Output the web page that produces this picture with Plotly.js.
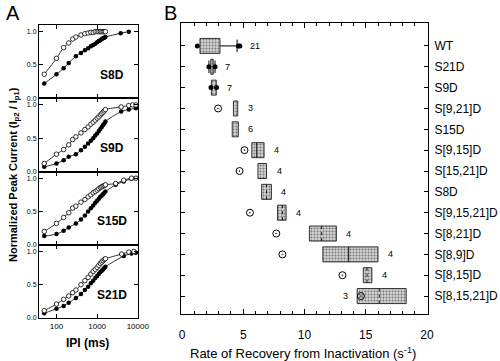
<!DOCTYPE html>
<html>
<head>
<meta charset="utf-8">
<script src="https://cdn.plot.ly/plotly-3.0.1.min.js"></script>
<style>html,body{margin:0;padding:0;background:#fff}#chart{width:500px;height:361px}</style>
</head>
<body>
<div id="chart"></div>
<script>
// ---------- Panel A data: normalized peak current vs IPI (ms) ----------
const panelNames = ['S8D', 'S9D', 'S15D', 'S21D'];

const s8dOpenIpi = [50,100,150,200,250,300,400,500,600,700,800,900,1000,1100,1200,1300,1400,1500,1600];
const s8dOpenVal = [0.36,0.60,0.76,0.83,0.89,0.92,0.95,0.97,0.98,0.99,0.99,1.0,1.0,1.0,1.0,1.0,1.0,1.0,1.0];
const s8dFillIpi = [50,100,150,200,300,400,500,600,700,800,900,1000,1100,1200,1300,1400,1500,1600,3800,6000];
const s8dFillVal = [0.22,0.36,0.45,0.53,0.63,0.68,0.72,0.75,0.78,0.80,0.82,0.84,0.86,0.87,0.89,0.90,0.91,0.92,0.975,1.0];

const s9dOpenIpi = [50,100,150,200,250,300,400,500,600,700,800,900,1000,1100,1200,1300,1400,1500,1600,3900,6000,7500,9000];
const s9dOpenVal = [0.12,0.26,0.33,0.40,0.48,0.52,0.58,0.63,0.67,0.71,0.74,0.77,0.80,0.82,0.85,0.87,0.89,0.91,0.93,0.97,0.99,1.0,1.0];
const s9dFillIpi = [50,100,150,200,300,400,500,600,700,800,900,1000,1100,1200,1300,1400,1500,1600,3900,6000,9000];
const s9dFillVal = [0.07,0.12,0.17,0.22,0.26,0.32,0.37,0.42,0.46,0.50,0.54,0.57,0.61,0.64,0.67,0.70,0.72,0.75,0.90,0.93,0.95];

const s15dOpenIpi = [50,100,150,200,250,300,400,500,600,700,800,900,1000,1100,1200,1300,1400,1500,1600,2850,4500,7000,9000];
const s15dOpenVal = [0.20,0.32,0.41,0.48,0.55,0.58,0.64,0.68,0.72,0.75,0.78,0.80,0.82,0.84,0.86,0.87,0.88,0.89,0.90,0.92,0.97,1.0,1.0];
const s15dFillIpi = [50,100,150,200,300,400,500,600,700,800,900,1000,1100,1200,1300,1400,1500,1600,2850,4500,7000,9000];
const s15dFillVal = [0.13,0.16,0.21,0.26,0.32,0.38,0.44,0.50,0.55,0.59,0.63,0.66,0.69,0.72,0.74,0.76,0.78,0.80,0.90,0.95,0.99,1.0];

const s21dOpenIpi = [50,100,150,200,250,300,400,500,600,700,800,900,1000,1100,1200,1300,1400,1500,1600,4000,6000,8000];
const s21dOpenVal = [0.11,0.21,0.28,0.33,0.38,0.42,0.50,0.56,0.61,0.66,0.70,0.73,0.76,0.79,0.82,0.84,0.86,0.88,0.89,0.96,0.99,1.0];
const s21dFillIpi = [50,100,150,200,300,400,500,600,700,800,900,1000,1100,1200,1300,1400,1500,1600,4500,7000,9000];
const s21dFillVal = [0.07,0.14,0.18,0.23,0.30,0.36,0.42,0.47,0.52,0.56,0.60,0.63,0.66,0.69,0.71,0.73,0.75,0.77,0.93,0.97,0.98];

const ipiTicks = [100, 1000, 10000];
const ipiTickText = ['100', '1000', '10000'];
const ratioTicks = [0, 0.5, 1];
const ratioTickText = ['0.0', '0.5', '1.0'];

// ---------- Panel B data: rate of recovery from inactivation (1/s) ----------
const groups = ['WT','S21D','S9D','S[9,21]D','S15D','S[9,15]D','S[15,21]D','S8D','S[9,15,21]D','S[8,21]D','S[8,9]D','S[8,15]D','S[8,15,21]D'];
const q1Rate     = [1.47, 2.35, 2.40, 4.20, 4.10, 5.70, 6.20, 6.50, 7.80, 10.40, 11.50, 14.80, 14.30];
const q3Rate     = [3.10, 2.55, 2.80, 4.55, 4.60, 6.70, 6.90, 7.30, 8.50, 12.60, 16.00, 15.50, 18.30];
const medianRate = [null, null, null, null, null, 6.10, null, 6.90, 8.20, 11.40, 13.60, 15.10, 16.10];
const whiskerLo  = [null, 2.20, null, null, null, null, null, null, null, null, null, null, null];
const whiskerHi  = [4.50, 2.70, null, null, null, null, null, null, null, null, null, null, null];
const outlierRate  = [1.25, 4.60, 4.72, 2.20, 2.70, 2.37, 2.82];
const outlierGroup = ['WT', 'WT', 'WT', 'S21D', 'S21D', 'S9D', 'S9D'];
const refRate    = [null, null, null, 2.95, null, 5.10, 4.70, null, 5.55, 7.70, 8.20, 13.10, 14.60];
const nCells     = [21, 7, 7, 3, 6, 4, 4, 4, 4, 4, 4, 4, 3];

// style-only settings
const solidMedianGroups = ['S[9,15]D', 'S[8,9]D'];
const leftCountGroups = ['S[8,15,21]D'];

const FONT = 'Liberation Sans, Arial, Helvetica, sans-serif';
const traces = [];
const series = [
  [s8dOpenIpi, s8dOpenVal, s8dFillIpi, s8dFillVal],
  [s9dOpenIpi, s9dOpenVal, s9dFillIpi, s9dFillVal],
  [s15dOpenIpi, s15dOpenVal, s15dFillIpi, s15dFillVal],
  [s21dOpenIpi, s21dOpenVal, s21dFillIpi, s21dFillVal]
];
series.forEach((s, k) => {
  const xa = k === 0 ? 'x' : 'x' + (k + 1);
  const ya = k === 0 ? 'y' : 'y' + (k + 1);
  traces.push({
    type: 'scatter', mode: 'lines+markers', x: s[2], y: s[3], xaxis: xa, yaxis: ya,
    line: {color: '#000', width: 0.8, shape: 'spline', smoothing: 0.8},
    marker: {symbol: 'circle', size: 4.5, color: '#000'}, hoverinfo: 'skip'
  });
  traces.push({
    type: 'scatter', mode: 'lines+markers', x: s[0], y: s[1], xaxis: xa, yaxis: ya,
    line: {color: '#000', width: 0.8, shape: 'spline', smoothing: 0.8},
    marker: {symbol: 'circle', size: 4.5, color: '#fff', line: {color: '#000', width: 0.8}}, hoverinfo: 'skip'
  });
});

const idx = groups.map((g, i) => i);
// boxes
traces.push({
  type: 'bar', orientation: 'h', xaxis: 'x5', yaxis: 'y5',
  y: idx, base: q1Rate, x: q1Rate.map((v, i) => q3Rate[i] - v), width: 0.72,
  marker: {color: '#cfcfcf', line: {color: '#333', width: 1},
    pattern: {shape: '.', fgcolor: '#777', bgcolor: '#d4d4d4', size: 3, solidity: 0.35}},
  hoverinfo: 'skip'
});
// whiskers + caps
const wx = [], wy = [];
idx.forEach(i => {
  if (whiskerHi[i] != null) {
    wx.push(q3Rate[i], whiskerHi[i], null, whiskerHi[i], whiskerHi[i], null);
    wy.push(i, i, null, i - 0.3, i + 0.3, null);
  }
  if (whiskerLo[i] != null) {
    wx.push(q1Rate[i], whiskerLo[i], null, whiskerLo[i], whiskerLo[i], null);
    wy.push(i, i, null, i - 0.3, i + 0.3, null);
  }
});
traces.push({type: 'scatter', mode: 'lines', x: wx, y: wy, xaxis: 'x5', yaxis: 'y5',
  line: {color: '#000', width: 1}, hoverinfo: 'skip'});
// medians
const mdx = [], mdy = [], msx = [], msy = [];
idx.forEach(i => {
  if (medianRate[i] == null) return;
  const solid = solidMedianGroups.includes(groups[i]);
  (solid ? msx : mdx).push(medianRate[i], medianRate[i], null);
  (solid ? msy : mdy).push(i - 0.36, i + 0.36, null);
});
traces.push({type: 'scatter', mode: 'lines', x: mdx, y: mdy, xaxis: 'x5', yaxis: 'y5',
  line: {color: '#111', width: 1, dash: 'dot'}, hoverinfo: 'skip'});
traces.push({type: 'scatter', mode: 'lines', x: msx, y: msy, xaxis: 'x5', yaxis: 'y5',
  line: {color: '#111', width: 1}, hoverinfo: 'skip'});
// outliers
traces.push({type: 'scatter', mode: 'markers', x: outlierRate, y: outlierGroup.map(g => groups.indexOf(g)),
  xaxis: 'x5', yaxis: 'y5', marker: {symbol: 'circle', size: 5, color: '#000'}, hoverinfo: 'skip'});
// reference circles
traces.push({type: 'scatter', mode: 'markers', x: refRate, y: idx, xaxis: 'x5', yaxis: 'y5',
  marker: {symbol: 'circle-open-dot', size: 7, color: '#000', line: {width: 1}}, hoverinfo: 'skip'});

const annotations = [];
idx.forEach(i => {
  const left = leftCountGroups.includes(groups[i]);
  const hi = Math.max(q3Rate[i], whiskerHi[i] || 0, ...outlierRate.filter((v, j) => outlierGroup[j] === groups[i]));
  annotations.push({
    xref: 'x5', yref: 'y5', x: left ? q1Rate[i] : hi, y: i, text: String(nCells[i]), showarrow: false,
    xanchor: left ? 'right' : 'left', yanchor: 'middle', xshift: left ? -7 : 8,
    font: {size: 9, family: FONT, color: '#000'}
  });
});
panelNames.forEach((n, k) => {
  annotations.push({
    xref: (k === 0 ? 'x' : 'x' + (k + 1)) + ' domain', yref: k === 0 ? 'y' : 'y' + (k + 1),
    x: 0.74, y: 0.35, xanchor: 'center', yanchor: 'middle', text: '<b>' + n + '</b>', showarrow: false,
    font: {size: 12, family: FONT, color: '#000'}
  });
});
const paperText = (px, py, text, size, extra) => Object.assign({
  xref: 'paper', yref: 'paper', x: px / 500, y: 1 - py / 361, xanchor: 'center', yanchor: 'middle',
  text: text, showarrow: false, font: {size: size, family: FONT, color: '#000'}
}, extra || {});
annotations.push(
  paperText(13, 13, 'A', 20),
  paperText(170, 13, 'B', 20),
  paperText(14, 175, '<b>Normalized Peak Current (I<sub>p2</sub> / I<sub>p1</sub>)</b>', 11, {textangle: -90}),
  paperText(87, 343, '<b>IPI (ms)</b>', 12),
  paperText(303, 353, 'Rate of Recovery from Inactivation (s<sup>-1</sup>)', 13)
);

const layout = {
  width: 500, height: 361, margin: {l: 0, r: 0, t: 0, b: 0},
  paper_bgcolor: '#fff', plot_bgcolor: 'rgba(0,0,0,0)', showlegend: false,
  font: {family: FONT, size: 11, color: '#000'},
  annotations: annotations
};
const tops = [25, 98.25, 171.5, 244.75];
tops.forEach((t, k) => {
  const sfx = k === 0 ? '' : String(k + 1);
  layout['xaxis' + sfx] = {
    type: 'log', range: [1.57, 4.005], domain: [39 / 500, 138 / 500], anchor: 'y' + sfx,
    showline: true, linecolor: '#000', linewidth: 1, mirror: 'ticks', ticks: 'inside', ticklen: 4,
    tickcolor: '#000', tickvals: ipiTicks, ticktext: ipiTickText, showticklabels: k === 3,
    tickfont: {size: 8, family: FONT}, showgrid: false, zeroline: false, fixedrange: true
  };
  layout['yaxis' + sfx] = {
    range: [0, 1.1], domain: [1 - (t + 73.25) / 361, 1 - t / 361], anchor: 'x' + sfx,
    showline: true, linecolor: '#000', linewidth: 1, mirror: 'ticks', ticks: 'inside', ticklen: 4,
    tickcolor: '#000', tickvals: ratioTicks, ticktext: ratioTickText, tickfont: {size: 7, family: FONT},
    showgrid: false, zeroline: false, fixedrange: true
  };
});
layout.xaxis5 = {
  range: [-0.08, 20.08], domain: [181 / 500, 428 / 500], anchor: 'y5',
  showline: true, linecolor: '#000', linewidth: 1, mirror: 'ticks', ticks: 'inside', ticklen: 5, tickcolor: '#000',
  tick0: 0, dtick: 5, minor: {dtick: 1, ticks: 'inside', ticklen: 3, tickcolor: '#000'},
  tickfont: {size: 12, family: FONT}, ticklabelstandoff: 10, showgrid: false, zeroline: false, fixedrange: true
};
layout.yaxis5 = {
  range: [12.86, -1.1], domain: [1 - 314 / 361, 1 - 23 / 361], anchor: 'x5', side: 'right',
  showline: true, linecolor: '#000', linewidth: 1, mirror: 'ticks', ticks: 'inside', ticklen: 4, tickcolor: '#000',
  tickvals: idx, ticktext: groups, tickfont: {size: 12, family: FONT}, ticklabelstandoff: 3,
  showgrid: false, zeroline: false, fixedrange: true
};

Plotly.newPlot('chart', traces, layout, {staticPlot: true, displayModeBar: false});
</script>
</body>
</html>
